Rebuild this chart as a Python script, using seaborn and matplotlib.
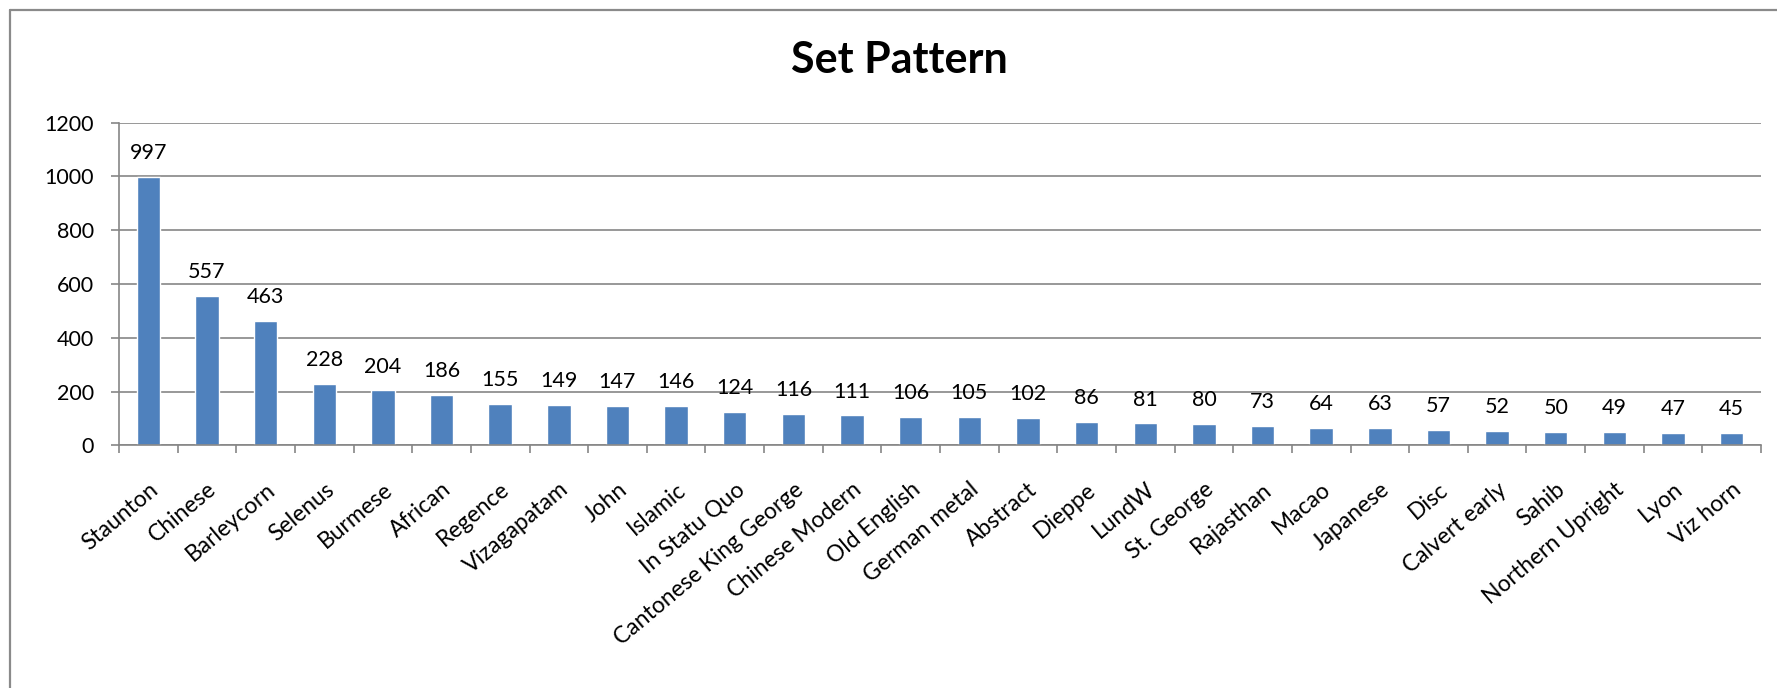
import pandas as pd
import seaborn as sns
import matplotlib.pyplot as plt
from matplotlib.lines import Line2D

# gegevens uit de grafiek
patronen = ["Staunton", "Chinese", "Barleycorn", "Selenus", "Burmese", "African",
            "Regence", "Vizagapatam", "John", "Islamic", "In Statu Quo",
            "Cantonese King George", "Chinese Modern", "Old English", "German metal",
            "Abstract", "Dieppe", "LundW", "St. George", "Rajasthan", "Macao",
            "Japanese", "Disc", "Calvert early", "Sahib", "Northern Upright",
            "Lyon", "Viz horn"]
aantallen = [997, 557, 463, 228, 204, 186, 155, 149, 147, 146, 124, 116, 111,
             106, 105, 102, 86, 81, 80, 73, 64, 63, 57, 52, 50, 49, 47, 45]
y_ticks = [0, 200, 400, 600, 800, 1000, 1200]

sns.set_style("white")
plt.rcParams['font.family'] = ['Lato', 'DejaVu Sans']
plt.rcParams['text.color'] = "black"
plt.rcParams['xtick.color'] = "black"
plt.rcParams['ytick.color'] = "black"

frame = pd.DataFrame({"patroon": patronen, "aantal": aantallen})

fig = plt.figure(figsize=(17.77, 6.88), dpi=100)
ax = fig.add_axes([0.06697, 0.3528, 0.99100 - 0.06697, 0.8217 - 0.3528])

sns.barplot(data=frame, x="patroon", y="aantal", color="#4F81BD",
            saturation=1, width=0.4, ax=ax)

grijs = "#868686"
ax.set_ylim(0, 1200)
ax.set_xlim(-0.5, len(patronen) - 0.5)
ax.set_yticks(y_ticks)
ax.set_yticklabels([str(t) for t in y_ticks], fontsize=15.5)
ax.yaxis.grid(True, color=grijs, linewidth=1.2)
ax.set_axisbelow(True)
ax.set_xlabel("")
ax.set_ylabel("")

for kant in ["top", "right"]:
    ax.spines[kant].set_visible(False)
for kant in ["left", "bottom"]:
    ax.spines[kant].set_color(grijs)
    ax.spines[kant].set_linewidth(1.2)

# tickmarks tussen de balken, labels in het midden (zoals excel)
ax.set_xticks([i - 0.5 for i in range(len(patronen) + 1)], minor=True)
ax.tick_params(axis="x", which="minor", length=6, width=1.2, color=grijs, bottom=True)
ax.tick_params(axis="x", which="major", length=0, pad=24)
ax.tick_params(axis="y", length=6, width=1.2, color=grijs, left=True, pad=12)
ax.set_xticks(range(len(patronen)))
ax.set_xticklabels(patronen, rotation=40, ha="right", va="top",
                   rotation_mode="anchor", fontsize=16.5)

ax.bar_label(ax.containers[0], labels=[str(a) for a in aantallen],
             padding=10, fontsize=15.5, color="black")

fig.text(899 / 1777, 1 - 60 / 688, "Set Pattern", fontsize=31,
         fontweight="bold", ha="center", va="center")

# rand van het grafiekvak
fig.add_artist(Line2D([10 / 1777, 10 / 1777], [0, 1 - 10 / 688],
                      color="#8a8a8a", linewidth=1.6))
fig.add_artist(Line2D([10 / 1777, 1], [1 - 10 / 688, 1 - 10 / 688],
                      color="#8a8a8a", linewidth=1.6))

plt.savefig("out.png", dpi=100)
